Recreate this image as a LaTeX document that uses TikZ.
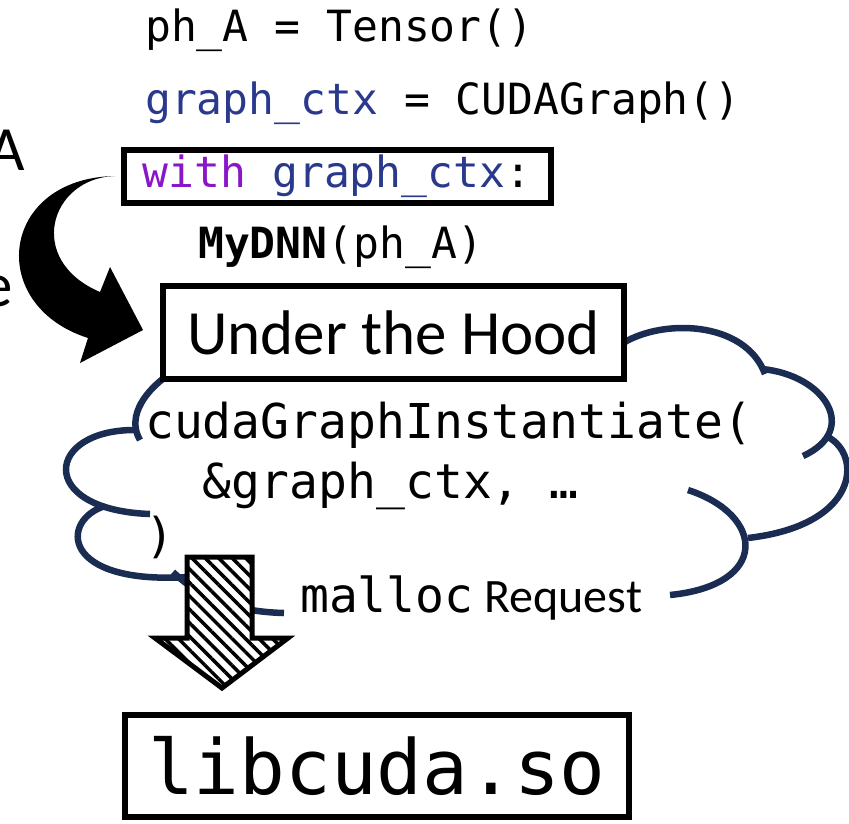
\documentclass[tikz,border=0pt]{standalone}
\usepackage{fontspec}
\setmainfont{Carlito}
\setmonofont{DejaVu Sans Mono}
\usetikzlibrary{patterns.meta}
\definecolor{ctxblue}{RGB}{42,57,140}
\definecolor{kwpurple}{RGB}{137,22,199}
\definecolor{cloudnavy}{RGB}{27,44,82}

\begin{document}
\begin{tikzpicture}[x=1pt,y=-1pt,
  code/.style={anchor=base west,inner sep=0pt,font=\ttfamily\fontsize{43}{50}\selectfont},
  bigcode/.style={anchor=base west,inner sep=0pt,font=\ttfamily\fontsize{48}{56}\selectfont},
  frame/.style={draw,line width=6pt,fill=white,inner sep=0pt},
  puff/.style={draw=cloudnavy,line width=6.5pt},
  cutword/.style={anchor=base east,inner sep=0pt,font=\fontsize{63}{70}\selectfont}]
\useasboundingbox (0,0) rectangle (849,823);

% words cut off at the left edge
\node[cutword] (cutA) at (25,170) {A};
\node[cutword] (cute) at (13,306) {e};

% python side
\node[code] (tensorline) at (145,41) {ph\_A = Tensor()};
\node[code] (graphline) at (145,114) {\textcolor{ctxblue}{graph\_ctx} = CUDAGraph()};
\node[frame,minimum width=427pt,minimum height=53pt,font=\ttfamily\fontsize{43}{50}\selectfont]
  (withbox) at (337,176) {\textcolor{kwpurple}{with} \textcolor{ctxblue}{graph\_ctx}:};
\node[code] (mydnn) at (198,258) {\textbf{MyDNN}(ph\_A)};

% curved arrow
\fill (115,176) .. controls (50,178) and (25,260) .. (100,292) -- (110,267) -- (143,330)
  -- (80,363) -- (88,338) .. controls (-15,305) and (0,178) .. (115,176) -- cycle;

% cloud
\draw[puff] (620,345) .. controls (660,318) and (745,320) .. (765,374);
\draw[puff] (762,369) .. controls (825,375) and (860,430) .. (803,456);
\draw[puff] (828,437) .. controls (862,455) and (860,525) .. (748,538);
\draw[puff] (688,490) .. controls (765,515) and (770,585) .. (670,595);
\draw[puff] (173,572) .. controls (205,603) and (245,612) .. (284,613);
\draw[puff] (105,506) .. controls (60,520) and (60,585) .. (188,577);
\draw[puff] (138,430) .. controls (45,428) and (35,510) .. (150,514);
\draw[puff] (168,375) .. controls (140,395) and (128,420) .. (140,440);

\node[frame,minimum width=461pt,minimum height=93pt,font=\fontsize{63}{70}\selectfont]
  (hood) at (393.5,332.5) {Under the Hood};

\node[bigcode] (inst1) at (145,438) {cudaGraphInstantiate(};
\node[bigcode] (inst2) at (145,498) {\ \ \&graph\_ctx, …};
\node[bigcode] (inst3) at (145,552) {)};
\node[anchor=base west,inner sep=0pt,font=\fontsize{48}{56}\selectfont]
  (malloc) at (300,612) {{\ttfamily malloc} Request};

% hatched block arrow
\draw[line width=5pt,preaction={fill=white},pattern={Lines[angle=-45,distance=9.5pt,line width=3.5pt]}]
  (187,557) -- (252,557) -- (252,638) -- (288,638) -- (222,688) -- (155,638) -- (187,638) -- cycle;

\node[frame,minimum width=504pt,minimum height=102pt,font=\ttfamily\fontsize{76}{84}\selectfont]
  (libcuda) at (377,766) {libcuda.so};
\end{tikzpicture}
\end{document}
